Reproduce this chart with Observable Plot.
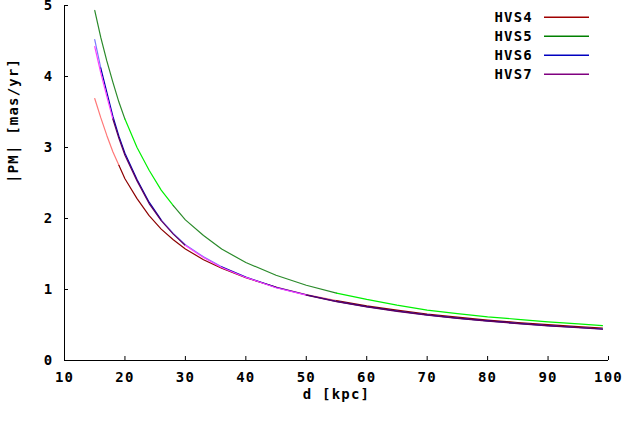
<!DOCTYPE html>
<html>
<head>
<meta charset="utf-8">
<script src="https://cdn.jsdelivr.net/npm/d3@7"></script>
<script src="https://cdn.jsdelivr.net/npm/@observablehq/plot@0.6"></script>
<style>
  html, body { margin: 0; padding: 0; background: #fff; }
  #wrap { position: relative; width: 629px; height: 421px; }
  #legend { position: absolute; left: 0; top: 0; pointer-events: none; }
  .lab { font-family: "DejaVu Sans Mono", monospace; font-size: 14px; font-weight: bold; letter-spacing: 1.2px; }
</style>
</head>
<body>
<div id="wrap"></div>
<script>
// distance grid (kpc)
const xs   = [15, 16, 17, 18, 19, 20, 22, 24, 26, 28, 30, 33, 36, 40, 45, 50, 55, 60, 65, 70, 75, 80, 85, 90, 95, 99];
// proper motion |PM| (mas/yr)
const hvs4 = [3.69, 3.42, 3.17, 2.94, 2.75, 2.56, 2.28, 2.04, 1.85, 1.70, 1.57, 1.42, 1.30, 1.165, 1.035, 0.93, 0.845, 0.77, 0.71, 0.655, 0.61, 0.57, 0.535, 0.505, 0.478, 0.458];
const hvs5 = [4.93, 4.55, 4.22, 3.92, 3.64, 3.40, 3.00, 2.68, 2.40, 2.18, 1.98, 1.76, 1.57, 1.38, 1.20, 1.06, 0.95, 0.86, 0.78, 0.71, 0.66, 0.615, 0.58, 0.545, 0.515, 0.49];
const hvs6 = [4.52, 4.12, 3.78, 3.44, 3.16, 2.92, 2.55, 2.23, 1.98, 1.79, 1.63, 1.46, 1.32, 1.175, 1.03, 0.924, 0.833, 0.758, 0.697, 0.643, 0.597, 0.557, 0.524, 0.492, 0.465, 0.444];
const hvs7 = [4.42, 4.05, 3.72, 3.40, 3.13, 2.89, 2.53, 2.21, 1.97, 1.78, 1.62, 1.45, 1.31, 1.17, 1.025, 0.92, 0.83, 0.755, 0.693, 0.64, 0.594, 0.554, 0.52, 0.488, 0.462, 0.44];

const names = ["HVS4", "HVS5", "HVS6", "HVS7"];
const values = [hvs4, hvs5, hvs6, hvs7];
// colour segments along each curve (alternating shades)
const segBreaks = [[15, 19, 45, 55, 99], [15, 20, 28, 55, 99], [15, 16, 26, 36, 99], [15, 18, 30, 50, 99]];
const shadeA = ["#ff7878", "#2a8a2a", "#7878ff", "#ff40ff"];
const shadeB = ["#8c0000", "#00f000", "#0000b0", "#600060"];
const legendColors = ["#a00000", "#008000", "#0000c0", "#800080"];

const xTicks = [10, 20, 30, 40, 50, 60, 70, 80, 90, 100];
const yTicks = [0, 1, 2, 3, 4, 5];

const rows = [];
names.forEach((name, si) => {
  const br = segBreaks[si];
  for (let k = 0; k < br.length - 1; k++) {
    const color = k % 2 === 0 ? shadeA[si] : shadeB[si];
    xs.forEach((x, i) => {
      if (x >= br[k] && x <= br[k + 1]) rows.push({x, y: values[si][i], seg: name + "-" + k, color});
    });
  }
});

const font = "font-family: 'DejaVu Sans Mono', monospace; font-size: 14px; font-weight: bold; letter-spacing: 1.2px; background: #fff;";

const chart = Plot.plot({
  width: 629,
  height: 421,
  marginLeft: 64,
  marginRight: 21,
  marginTop: 5,
  marginBottom: 61,
  style: font,
  x: {domain: [10, 100]},
  y: {domain: [0, 5]},
  color: {type: "identity"},
  marks: [
    Plot.axisX({ticks: xTicks, tickSize: 0, tickPadding: 12, tickFormat: d => String(d), label: null, fill: "#000"}),
    Plot.axisY({ticks: yTicks, tickSize: 0, tickPadding: 11, tickFormat: d => String(d), label: null, fill: "#000"}),
    Plot.axisX({ticks: xTicks, tickSize: 4, dy: -4, tickFormat: () => "", label: null}),
    Plot.axisY({ticks: yTicks, tickSize: 4, dx: 4, tickFormat: () => "", label: null}),
    Plot.ruleY([0], {stroke: "#000"}),
    Plot.ruleX([10], {stroke: "#000"}),
    Plot.line(rows, {x: "x", y: "y", z: "seg", stroke: "color", strokeWidth: 1.2}),
    Plot.text(["d [kpc]"], {frameAnchor: "bottom", dy: 38, fill: "#000"}),
    Plot.text(["|PM| [mas/yr]"], {frameAnchor: "left", rotate: -90, dx: -51, fill: "#000"})
  ]
});

const wrap = document.getElementById("wrap");
wrap.appendChild(chart);

// legend overlay
const ns = "http://www.w3.org/2000/svg";
const leg = document.createElementNS(ns, "svg");
leg.setAttribute("id", "legend");
leg.setAttribute("width", 629);
leg.setAttribute("height", 421);
names.forEach((name, i) => {
  const cy = 17.3 + i * 19;
  const t = document.createElementNS(ns, "text");
  t.setAttribute("x", 533);
  t.setAttribute("y", cy + 4.6);
  t.setAttribute("text-anchor", "end");
  t.setAttribute("class", "lab");
  t.textContent = name;
  leg.appendChild(t);
  const l = document.createElementNS(ns, "line");
  l.setAttribute("x1", 544);
  l.setAttribute("x2", 589);
  l.setAttribute("y1", cy);
  l.setAttribute("y2", cy);
  l.setAttribute("stroke", legendColors[i]);
  l.setAttribute("stroke-width", 1.5);
  leg.appendChild(l);
});
wrap.appendChild(leg);
</script>
</body>
</html>
